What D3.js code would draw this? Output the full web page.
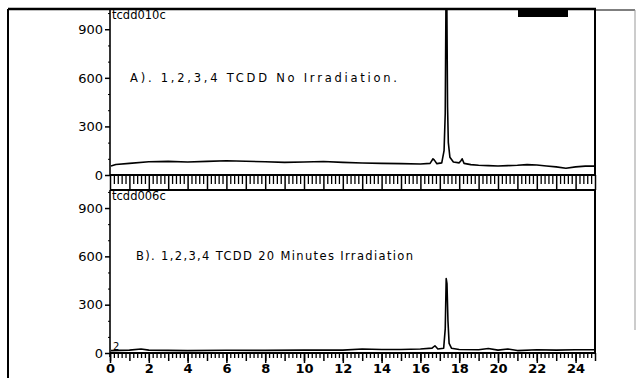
<!DOCTYPE html>
<html>
<head>
<meta charset="utf-8">
<script src="https://cdn.jsdelivr.net/npm/d3@7"></script>
<style>
  body { margin: 0; background: #fff; }
  svg { display: block; }
  text { font-family: "DejaVu Sans", sans-serif; fill: #000; }
</style>
</head>
<body>
<div id="chart"></div>
<script>
let width = 636;
let height = 378;

// retention time (min) and counts
let timeA = [0.05, 0.3, 1, 2, 3, 4, 5, 6, 7, 8, 9, 10, 11, 12, 13, 14, 15, 16, 16.5, 16.65, 16.72, 16.85, 17.1, 17.22, 17.28, 17.32, 17.36, 17.4, 17.44, 17.52, 17.7, 18.0, 18.1, 18.15, 18.25, 18.6, 19, 19.5, 20, 20.5, 21, 21.5, 22, 22.5, 23, 23.5, 24, 24.5, 24.95];
let countA = [55, 65, 72, 82, 84, 80, 84, 88, 85, 82, 78, 80, 83, 78, 74, 72, 70, 68, 72, 100, 92, 70, 75, 150, 380, 1100, 1100, 420, 200, 110, 80, 75, 90, 100, 72, 64, 60, 58, 56, 58, 60, 64, 62, 56, 50, 42, 50, 55, 55];

let timeB = [0.05, 1, 1.6, 2, 4, 6, 8, 10, 12, 13, 14, 15, 16, 16.6, 16.75, 16.9, 17.2, 17.28, 17.33, 17.37, 17.42, 17.48, 17.6, 18, 19, 19.5, 20, 20.5, 21, 22, 23, 24, 24.95];
let countB = [15, 18, 25, 18, 15, 17, 16, 18, 18, 25, 22, 22, 25, 30, 45, 25, 30, 150, 462, 430, 200, 60, 30, 22, 20, 28, 18, 25, 15, 20, 18, 20, 20];

let yTicks = [0, 300, 600, 900];
let yMinor = [100, 200, 400, 500, 700, 800, 1000];
let xLabels = [0, 2, 4, 6, 8, 10, 12, 14, 16, 18, 20, 22, 24];

let plotLeft = 110;
let plotRight = 595;

let svg = d3.select("#chart").append("svg")
    .attr("width", width).attr("height", height);

let x = d3.scaleLinear().domain([0, 25]).range([plotLeft, plotRight]);
let minorX = d3.range(0, 25.01, 0.2).map(d => Math.round(d * 10) / 10).filter(d => Math.abs(d - Math.round(d)) > 0.01);
let intX = d3.range(0, 26);

// outer frame of the scanned page
svg.append("line").attr("x1", 8).attr("x2", 8).attr("y1", 9).attr("y2", 378)
    .attr("stroke", "#000").attr("stroke-width", 2);
svg.append("line").attr("x1", 8).attr("x2", 596).attr("y1", 9).attr("y2", 9)
    .attr("stroke", "#000").attr("stroke-width", 2.5);
svg.append("line").attr("x1", 596).attr("x2", 635).attr("y1", 10).attr("y2", 10)
    .attr("stroke", "#000").attr("stroke-width", 1.2);
svg.append("line").attr("x1", 635).attr("x2", 635).attr("y1", 10).attr("y2", 330)
    .attr("stroke", "#999").attr("stroke-width", 1);
svg.append("rect").attr("x", 518).attr("y", 9).attr("width", 50).attr("height", 8).attr("fill", "#000");

function panel(opt) {
    let y = d3.scaleLinear().domain([0, opt.yMax]).range([opt.bottom, opt.top]);
    let g = svg.append("g");

    let clipId = "clip-" + opt.name;
    svg.append("clipPath").attr("id", clipId).append("rect")
        .attr("x", plotLeft).attr("y", opt.top).attr("width", plotRight - plotLeft).attr("height", opt.bottom - opt.top);

    // trace
    let line = d3.line().x((d, i) => x(opt.time[i])).y(d => y(d));
    g.append("path").datum(opt.count)
        .attr("d", line)
        .attr("fill", "none").attr("stroke", "#000").attr("stroke-width", 1.6)
        .attr("stroke-linejoin", "round")
        .attr("clip-path", `url(#${clipId})`);

    // box: left axis, top, right
    g.append("line").attr("x1", plotLeft).attr("x2", plotLeft).attr("y1", opt.top).attr("y2", opt.bottom + opt.leftExtra)
        .attr("stroke", "#000").attr("stroke-width", 1.6);
    g.append("line").attr("x1", plotLeft).attr("x2", plotRight).attr("y1", opt.top).attr("y2", opt.top)
        .attr("stroke", "#000").attr("stroke-width", 2);
    g.append("line").attr("x1", plotRight).attr("x2", plotRight).attr("y1", opt.top).attr("y2", opt.bottom)
        .attr("stroke", "#000").attr("stroke-width", 2);

    // y axis
    let yAxis = g.append("g").attr("transform", `translate(${plotLeft},0)`)
        .call(d3.axisLeft(y).tickValues(yTicks).tickSize(5).tickPadding(2).tickFormat(d3.format("d")));
    yAxis.select(".domain").remove();
    yAxis.selectAll("line").attr("stroke-width", 1.5);
    yAxis.selectAll("text").style("font-size", "13px");
    let yMin = g.append("g").attr("transform", `translate(${plotLeft},0)`)
        .call(d3.axisLeft(y).tickValues(yMinor.filter(v => v <= opt.yMax)).tickSize(2).tickFormat(""));
    yMin.select(".domain").remove();

    // x axis ruler
    let xg = g.append("g").attr("transform", `translate(0,${opt.bottom})`);
    xg.append("line").attr("x1", plotLeft).attr("x2", plotRight).attr("y1", 0).attr("y2", 0)
        .attr("stroke", "#000").attr("stroke-width", 2);
    let minorAxis = xg.append("g").call(d3.axisBottom(x).tickValues(minorX).tickSize(opt.minorLen).tickFormat(""));
    minorAxis.select(".domain").remove();
    minorAxis.selectAll("line").attr("stroke-width", 1.3);
    let intAxis = xg.append("g").call(d3.axisBottom(x).tickValues(intX).tickSize(opt.intLen).tickFormat(""));
    intAxis.select(".domain").remove();
    intAxis.selectAll("line").attr("stroke-width", 1.5);
    if (opt.labels) {
        let labAxis = xg.append("g").call(d3.axisBottom(x).tickValues(xLabels).tickSize(opt.intLen + 2).tickPadding(1).tickFormat(d3.format("d")));
        labAxis.select(".domain").remove();
        labAxis.selectAll("line").attr("stroke-width", 1.5);
        labAxis.selectAll("text").style("font-size", "13px").style("font-weight", "bold");
    }

    // file name and annotation
    g.append("text").attr("x", plotLeft + 2).attr("y", opt.top + 10)
        .style("font-size", "11.5px").text(opt.file);
    g.append("text").attr("x", opt.noteX).attr("y", y(600) + 4)
        .style("font-size", "11.5px")
        .attr("textLength", opt.noteLen).attr("lengthAdjust", "spacing")
        .text(opt.note);
    return y;
}

panel({
    name: "A", top: 9, bottom: 175, yMax: 1025, leftExtra: 0,
    time: timeA, count: countA,
    minorLen: 9, intLen: 15, labels: false,
    file: "tcdd010c", note: "A).  1,2,3,4 TCDD No Irradiation.", noteX: 130, noteLen: 267
});

let yB = panel({
    name: "B", top: 190, bottom: 353, yMax: 1012, leftExtra: 4,
    time: timeB, count: countB,
    minorLen: 5, intLen: 8, labels: true,
    file: "tcdd006c", note: "B).  1,2,3,4 TCDD 20 Minutes Irradiation", noteX: 136, noteLen: 277
});

svg.append("text").attr("x", 113).attr("y", 350).style("font-size", "10px").text("2");
</script>
</body>
</html>
